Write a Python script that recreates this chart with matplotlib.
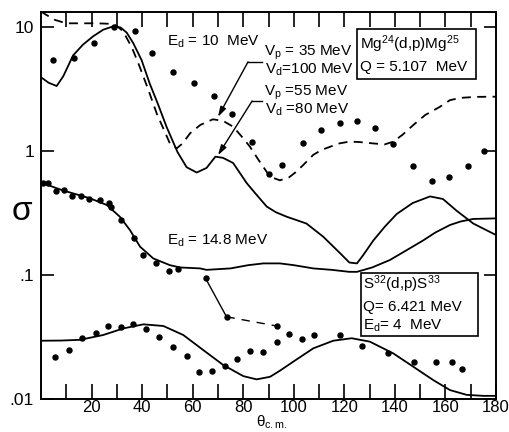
import matplotlib
matplotlib.use("Agg")
import matplotlib.pyplot as plt
from matplotlib.patches import Rectangle

# ---- Mg24(d,p)Mg25, Ed = 10 MeV ----
mg_solid_theta = [0, 3, 6.2, 8.8, 12.7, 16.6, 20.6, 24.6, 28.5, 31.5, 33.9, 36.5, 39.8, 43,
                  46.4, 49.7, 54, 57.6, 61.6, 65.5, 69, 72, 76, 81.4, 85, 89.3, 93, 97.2, 105,
                  111.6, 118.3, 122, 125, 127.5, 131.5, 136, 140.7, 147, 153.9, 159, 164.4,
                  171, 180]
mg_solid_sigma = [3.93, 3.55, 3.34, 4.0, 5.9, 7.2, 8.4, 9.5, 10.1, 9.9, 9.0, 7.4, 5.4, 3.5,
                  2.35, 1.56, 0.98, 0.74, 0.67, 0.73, 0.9, 0.88, 0.8, 0.55, 0.45, 0.356, 0.32,
                  0.295, 0.26, 0.204, 0.15, 0.126, 0.124, 0.145, 0.19, 0.245, 0.31, 0.38, 0.43,
                  0.41, 0.33, 0.26, 0.21]

mg_dash_theta = [0, 3, 5.5, 10, 16.6, 22, 27.3, 30, 32.5, 36, 39, 42.5, 45.8, 48.5, 51, 53.7,
                 56, 59, 63, 68, 72, 76, 79.5, 82.7, 86, 90.6, 94.5, 98, 101, 104, 107.7,
                 111, 114.3, 118, 122, 126, 131.5, 136, 139.4, 143, 147.3, 152, 157.8,
                 161.8, 166, 172, 180]
mg_dash_sigma = [13.3, 12.2, 11.4, 10.7, 10.7, 10.7, 10.6, 10.2, 9.2, 6.8, 4.8, 3.1, 2.0, 1.5,
                 1.15, 1.05, 1.15, 1.39, 1.62, 1.8, 1.75, 1.57, 1.3, 1.08, 0.85, 0.62, 0.58,
                 0.61, 0.68, 0.78, 0.93, 1.02, 1.08, 1.15, 1.19, 1.18, 1.15, 1.13, 1.19, 1.35,
                 1.62, 1.95, 2.27, 2.57, 2.68, 2.73, 2.74]

mg_exp_theta = [4.9, 13, 21.1, 29, 37.2, 44, 52.1, 60.6, 68.6, 75.6, 83.5, 90.3, 95.5, 103.8,
                110.6, 118.3, 125.1, 132.2, 139.4, 147, 154.8, 161.5, 168.9, 175.4]
mg_exp_sigma = [5.4, 5.6, 7.4, 9.9, 9.3, 6.2, 4.3, 3.56, 2.8, 2.0, 1.19, 0.65, 0.77, 1.17,
                1.48, 1.67, 1.75, 1.53, 1.14, 0.75, 0.57, 0.62, 0.75, 1.0]

# ---- Ed = 14.8 MeV ----
e148_theta = [0, 8.8, 19.4, 26, 31.2, 35.2, 39.2, 44.4, 51, 55, 62.9, 65.5, 75, 82, 88, 94.5,
              100, 107.7, 115, 122, 125, 131, 138, 145, 151.2, 156, 161.8, 166, 171, 180]
e148_sigma = [0.555, 0.48, 0.415, 0.367, 0.295, 0.23, 0.169, 0.136, 0.12, 0.115, 0.113, 0.11,
              0.113, 0.12, 0.124, 0.124, 0.12, 0.113, 0.11, 0.106, 0.106, 0.115, 0.132, 0.16,
              0.19, 0.22, 0.253, 0.27, 0.283, 0.286]

e148_exp_theta = [0.7, 2.9, 5.9, 9.2, 12.1, 15.8, 19.1, 23.3, 26.8, 27.8, 31.5, 36.9, 40.5,
                  45.5, 50.8, 54.3]
e148_exp_sigma = [0.555, 0.555, 0.475, 0.48, 0.43, 0.43, 0.41, 0.40, 0.378, 0.355, 0.278,
                  0.2, 0.145, 0.126, 0.108, 0.112]

link_theta = [65.1, 73.4, 93.2]
link_sigma = [0.094, 0.046, 0.0388]

# ---- S32(d,p)S33, Ed = 4 MeV ----
s_theta = [0, 8, 15.4, 24.6, 32.6, 40.5, 48.4, 56.3, 64.2, 72.1, 80, 85.3, 90.6, 94.5, 99.8,
           107.7, 115.6, 122.9, 130.1, 139.4, 147.3, 155.2, 161.8, 168.4, 175, 180]
s_sigma = [0.0295, 0.0296, 0.030, 0.0328, 0.0371, 0.040, 0.0388, 0.0328, 0.0248, 0.0188,
           0.0153, 0.0144, 0.0151, 0.0169, 0.020, 0.0256, 0.0295, 0.0309, 0.029, 0.0233,
           0.0182, 0.0142, 0.0118, 0.0108, 0.0106, 0.0106]

s_exp_theta = [5.5, 11.2, 16.3, 21.6, 26.4, 31.5, 36.5, 41.5, 46.7, 52.1, 57.9, 62.5, 67.6,
               72.8, 77.7, 82.7, 87.9, 93.2, 98.1, 103.1, 108, 118.3, 126.9, 137.4, 147.7,
               156.2, 162.7, 166.7]
s_exp_sigma = [0.0219, 0.0248, 0.0309, 0.0343, 0.039, 0.0383, 0.040, 0.0365, 0.0318, 0.0264,
               0.0224, 0.0165, 0.0167, 0.0186, 0.021, 0.0245, 0.0238, 0.0286, 0.0334, 0.0305,
               0.0328, 0.0328, 0.027, 0.0236, 0.0197, 0.0197, 0.0197, 0.0175]

x_ticks = [10, 20, 30, 40, 50, 60, 70, 80, 90, 100, 110, 120, 130, 140, 150, 160, 170, 180]
x_labels = ["", "20", "", "40", "", "60", "", "80", "", "100", "", "120", "", "140", "",
            "160", "", "180"]
y_ticks = [0.01, 0.1, 1, 10]
y_labels = [".01", ".1", "1", "10"]

plt.rcParams["font.family"] = ["Liberation Sans", "DejaVu Sans"]
plt.rcParams["mathtext.fontset"] = "custom"
plt.rcParams["mathtext.rm"] = "Liberation Sans"
plt.rcParams["mathtext.it"] = "Liberation Sans:italic"
plt.rcParams["mathtext.default"] = "regular"

fig = plt.figure(figsize=(5.10, 4.32), dpi=100)
ax = fig.add_axes([41 / 510, 1 - 399 / 432, 455 / 510, 387 / 432])
ax.set_yscale("log")
ax.set_xlim(0, 180)
ax.set_ylim(0.01, 13.2)

lc = "black"
lw = 1.3
ax.plot(mg_solid_theta, mg_solid_sigma, color=lc, lw=lw)
ax.plot(mg_dash_theta, mg_dash_sigma, color=lc, lw=lw, dashes=(5, 3.5))
ax.plot(e148_theta, e148_sigma, color=lc, lw=lw)
ax.plot(s_theta, s_sigma, color=lc, lw=lw)

ms = 3.6
ax.plot(mg_exp_theta, mg_exp_sigma, "o", color=lc, ms=ms, clip_on=False)
ax.plot(e148_exp_theta, e148_exp_sigma, "o", color=lc, ms=ms, clip_on=False)
ax.plot(s_exp_theta, s_exp_sigma, "o", color=lc, ms=ms)
ax.plot(link_theta[:2], link_sigma[:2], color=lc, lw=1.0)
ax.plot(link_theta[1:], link_sigma[1:], color=lc, lw=1.0, dashes=(6, 5))
ax.plot(link_theta, link_sigma, "o", color=lc, ms=ms)

for s in ax.spines.values():
    s.set_linewidth(1.4)

ax.set_xticks(x_ticks)
ax.set_xticklabels(x_labels)
ax.set_yticks(y_ticks)
ax.set_yticklabels(y_labels)
ax.minorticks_off()
ax.tick_params(axis="x", which="major", direction="in", length=11, width=1.2,
               top=True, labelsize=12, pad=1)
ax.tick_params(axis="y", which="major", direction="in", length=9, width=1.2,
               right=True, labelsize=12.5, pad=5)

fs = 11
T = ax.transAxes
ax.text(0.277, 0.922, r"E$_{d}$ = 10  MeV", transform=T, fontsize=fs, va="center")
ax.text(0.490, 0.894, r"V$_{p}$ = 35 MeV", transform=T, fontsize=fs, va="center")
ax.text(0.492, 0.850, r"V$_{d}$=100 MeV", transform=T, fontsize=fs, va="center")
ax.text(0.490, 0.791, r"V$_{p}$ =55 MeV", transform=T, fontsize=fs, va="center")
ax.text(0.492, 0.747, r"V$_{d}$ =80 MeV", transform=T, fontsize=fs, va="center")
ax.text(0.277, 0.408, r"E$_{d}$ = 14.8 MeV", transform=T, fontsize=fs, va="center")

# reaction boxes
ax.add_patch(Rectangle((0.6945, 0.827), 0.2615, 0.129, transform=T, fill=False,
                       lw=1.2, ec=lc))
ax.text(0.701, 0.916, r"Mg$^{24}$(d,p)Mg$^{25}$", transform=T, fontsize=fs, va="center")
ax.text(0.701, 0.858, r"Q = 5.107  MeV", transform=T, fontsize=fs, va="center")

ax.add_patch(Rectangle((0.703, 0.163), 0.257, 0.163, transform=T, fill=False,
                       lw=1.2, ec=lc))
ax.text(0.708, 0.296, r"S$^{32}$(d,p)S$^{33}$", transform=T, fontsize=fs, va="center")
ax.text(0.708, 0.238, r"Q= 6.421 MeV", transform=T, fontsize=fs, va="center")
ax.text(0.708, 0.189, r"E$_{d}$= 4  MeV", transform=T, fontsize=fs, va="center")

# leaders from the potential labels to their curves
ax.plot([0.486, 0.455], [0.871, 0.871], color=lc, lw=1.0, transform=T)
ax.annotate("", xy=(0.389, 0.729), xytext=(0.455, 0.871), xycoords=T, textcoords=T,
            arrowprops=dict(arrowstyle="-|>,head_length=0.6,head_width=0.18",
                            color=lc, lw=1.0, shrinkA=0, shrinkB=0))
ax.plot([0.486, 0.464], [0.770, 0.770], color=lc, lw=1.0, transform=T)
ax.annotate("", xy=(0.389, 0.630), xytext=(0.464, 0.770), xycoords=T, textcoords=T,
            arrowprops=dict(arrowstyle="-|>,head_length=0.6,head_width=0.18",
                            color=lc, lw=1.0, shrinkA=0, shrinkB=0))

fig.text(22 / 510, 1 - 212 / 432, "σ", fontsize=24, ha="center", va="center")
fig.text(272 / 510, 1 / 432, r"$\theta_{c.m.}$", fontsize=11, ha="center",
         va="bottom")

fig.savefig("out.png", dpi=100)
